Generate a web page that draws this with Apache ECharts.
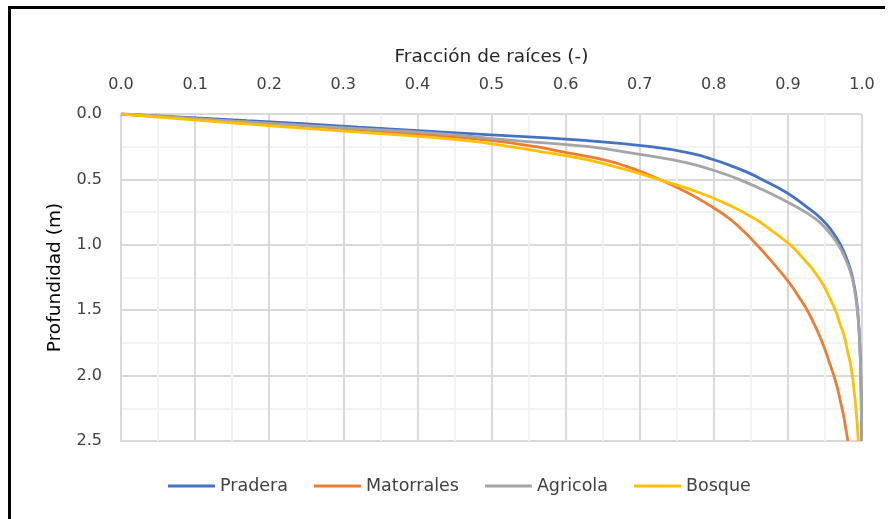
<!DOCTYPE html>
<html>
<head>
<meta charset="utf-8">
<script src="https://cdn.jsdelivr.net/npm/echarts@6/dist/echarts.min.js"></script>
<style>
html,body{margin:0;padding:0;background:#fff;}
#frame{position:absolute;left:8px;top:6px;width:877px;height:530px;border-top:3px solid #000;border-left:3px solid #000;box-sizing:border-box;}
#chart{position:absolute;left:0;top:0;width:891px;height:519px;}
</style>
</head>
<body>
<div id="frame"></div>
<div id="chart"></div>
<script>
var depths =     [0, 0.05, 0.1, 0.15, 0.2, 0.25, 0.3, 0.35, 0.4, 0.45, 0.5, 0.6, 0.7, 0.8, 0.9, 1.0, 1.1, 1.2, 1.3, 1.4, 1.5, 1.6, 1.7, 1.8, 1.9, 2.0, 2.1, 2.2, 2.3, 2.4, 2.5];
var pradera =    [0, 0.17, 0.32, 0.47, 0.62, 0.715, 0.768, 0.80, 0.825, 0.847, 0.865, 0.898, 0.923, 0.945, 0.96, 0.971, 0.979, 0.985, 0.989, 0.992, 0.994, 0.9955, 0.9965, 0.9973, 0.998, 0.9984, 0.9987, 0.999, 0.9992, 0.9994, 0.9995];
var matorrales = [0, 0.14, 0.27, 0.39, 0.495, 0.56, 0.605, 0.652, 0.682, 0.706, 0.727, 0.764, 0.795, 0.821, 0.841, 0.858, 0.874, 0.889, 0.903, 0.915, 0.926, 0.935, 0.943, 0.95, 0.956, 0.962, 0.967, 0.971, 0.975, 0.978, 0.981];
var agricola =   [0, 0.14, 0.285, 0.43, 0.525, 0.632, 0.69, 0.745, 0.782, 0.81, 0.834, 0.874, 0.908, 0.937, 0.955, 0.968, 0.977, 0.984, 0.9885, 0.9915, 0.9937, 0.9953, 0.9964, 0.9972, 0.9979, 0.9984, 0.9987, 0.999, 0.9992, 0.9994, 0.9995];
var bosque =     [0, 0.11, 0.225, 0.35, 0.46, 0.525, 0.58, 0.63, 0.665, 0.697, 0.725, 0.78, 0.822, 0.855, 0.88, 0.903, 0.92, 0.935, 0.947, 0.956, 0.964, 0.97, 0.976, 0.98, 0.984, 0.987, 0.989, 0.991, 0.9925, 0.9939, 0.995];
var seriesNames = ['Pradera', 'Matorrales', 'Agricola', 'Bosque'];
var colors = ['#4472C4', '#ED7D31', '#A5A5A5', '#FFC000'];
var xTitle = 'Fracción de raíces (-)';
var yTitle = 'Profundidad (m)';

var FONT = 'DejaVu Sans';
function pairs(vals){ return vals.map(function(v,i){ return [v, depths[i]]; }); }
var allVals = [pradera, matorrales, agricola, bosque];

var chart = echarts.init(document.getElementById('chart'), null, {renderer:'canvas'});
chart.setOption({
  animation:false,
  backgroundColor:'transparent',
  color: colors,
  grid:{left:121, right:29, top:114, bottom:78, containLabel:false},
  legend:{
    data: seriesNames,
    left: 168, top: 477, padding: 0,
    icon: 'rect', itemWidth: 47, itemHeight: 3, itemGap: 26,
    textStyle:{fontFamily:FONT, fontSize:17.5, color:'#404040'}
  },
  xAxis:{
    type:'value', position:'top', min:0, max:1, interval:0.1,
    name: xTitle, nameLocation:'middle', nameGap:47,
    nameTextStyle:{fontFamily:FONT, fontSize:18.5, color:'#262626'},
    axisLine:{show:false}, axisTick:{show:false},
    axisLabel:{fontFamily:FONT, fontSize:16, color:'#404040', margin:21, formatter:function(v){return v.toFixed(1);}},
    splitLine:{show:true, lineStyle:{color:'#D9D9D9', width:2}},
    minorTick:{show:false, splitNumber:2},
    minorSplitLine:{show:true, lineStyle:{color:'#F2F2F2', width:2}}
  },
  yAxis:{
    type:'value', inverse:true, min:0, max:2.5, interval:0.5,
    name: yTitle, nameLocation:'middle', nameGap:56, nameRotate:90,
    nameTextStyle:{fontFamily:FONT, fontSize:18.5, color:'#000'},
    axisLine:{show:true, lineStyle:{color:'#D9D9D9', width:2}}, axisTick:{show:false},
    axisLabel:{fontFamily:FONT, fontSize:16, color:'#404040', margin:19, formatter:function(v){return v.toFixed(1);}},
    splitLine:{show:true, lineStyle:{color:'#D9D9D9', width:2}},
    minorTick:{show:false, splitNumber:2},
    minorSplitLine:{show:true, lineStyle:{color:'#F2F2F2', width:2}}
  },
  series: seriesNames.map(function(n,i){
    return {name:n, type:'line', data:pairs(allVals[i]), smooth:0.5, symbol:'none',
      lineStyle:{width:2.8, color:colors[i]}, itemStyle:{color:colors[i]}};
  })
});
</script>
</body>
</html>
